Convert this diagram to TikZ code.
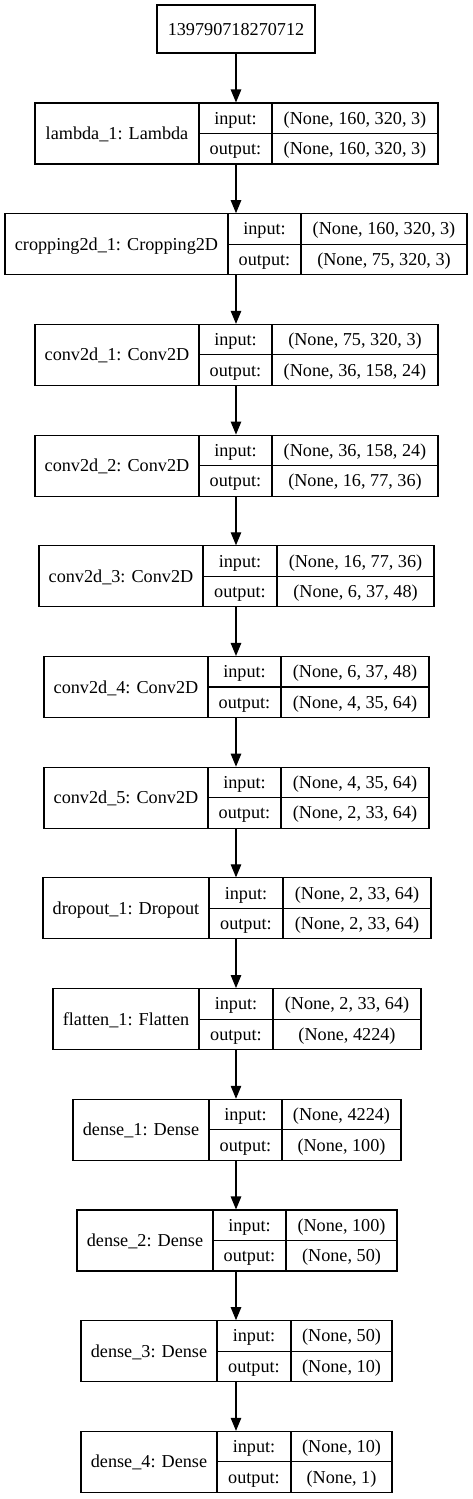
\documentclass[tikz,border=0pt]{standalone}
\usepackage{fontspec}
\setmainfont{Liberation Serif}
\usetikzlibrary{arrows.meta}
\tikzset{
  box/.style={draw=black, line width=1.1pt, inner sep=0pt, rectangle},
  divline/.style={draw=black, line width=1.1pt},
  txt/.style={inner sep=0pt, text height=12pt, text depth=0pt, font=\fontsize{18.2}{20}\selectfont},
  arr/.style={draw=black, line width=1.1pt, -{Triangle[length=13pt,width=10.5pt]}},
}
\newcommand\layer[9]{%
  \node[box, minimum width={#5-#2}, minimum height=61] (#1) at ({(#2+#5)/2},{#6+30.5}) {};
  \draw[divline] (#3,#6) -- (#3,{#6+61});
  \draw[divline] (#4,#6) -- (#4,{#6+61});
  \draw[divline] (#3,{#6+30.5}) -- (#5,{#6+30.5});
  \node[txt] (#1-name) at ({(#2+#3)/2},{#6+30.5}) {#7};
  \node[txt] (#1-inl) at ({(#3+#4)/2},{#6+15.25}) {input:};
  \node[txt] (#1-outl) at ({(#3+#4)/2},{#6+45.75}) {output:};
  \node[txt] (#1-in) at ({(#4+#5)/2},{#6+15.25}) {#8};
  \node[txt] (#1-out) at ({(#4+#5)/2},{#6+45.75}) {#9};
}
\begin{document}
\begin{tikzpicture}[x=1pt,y=-1pt]
\useasboundingbox[fill=white] (0,0) rectangle (473,1499);
\coordinate (ax) at (236,0);
\node[box, minimum width=158, minimum height=48] (top) at (236,29) {};
\node[txt] (top-t) at (236,29) {139790718270712};
\layer{L1}{35}{199}{272}{438}{103}{lambda\_1: Lambda}{(None, 160, 320, 3)}{(None, 160, 320, 3)}
\layer{L2}{5}{228}{301}{467}{213.7}{cropping2d\_1: Cropping2D}{(None, 160, 320, 3)}{(None, 75, 320, 3)}
\layer{L3}{35}{199}{272}{438}{324.4}{conv2d\_1: Conv2D}{(None, 75, 320, 3)}{(None, 36, 158, 24)}
\layer{L4}{35}{199}{272}{438}{435.1}{conv2d\_2: Conv2D}{(None, 36, 158, 24)}{(None, 16, 77, 36)}
\layer{L5}{39}{203}{277}{434}{545.8}{conv2d\_3: Conv2D}{(None, 16, 77, 36)}{(None, 6, 37, 48)}
\layer{L6}{44}{208}{281}{429}{656.5}{conv2d\_4: Conv2D}{(None, 6, 37, 48)}{(None, 4, 35, 64)}
\layer{L7}{44}{208}{281}{429}{767.2}{conv2d\_5: Conv2D}{(None, 4, 35, 64)}{(None, 2, 33, 64)}
\layer{L8}{43}{209}{283}{431}{877.9}{dropout\_1: Dropout}{(None, 2, 33, 64)}{(None, 2, 33, 64)}
\layer{L9}{53}{199}{273}{421}{988.6}{flatten\_1: Flatten}{(None, 2, 33, 64)}{(None, 4224)}
\layer{L10}{73}{209}{282}{401}{1099.3}{dense\_1: Dense}{(None, 4224)}{(None, 100)}
\layer{L11}{77}{213}{286}{397}{1210}{dense\_2: Dense}{(None, 100)}{(None, 50)}
\layer{L12}{81}{217}{291}{392}{1320.7}{dense\_3: Dense}{(None, 50)}{(None, 10)}
\layer{L13}{81}{217}{291}{392}{1431.4}{dense\_4: Dense}{(None, 10)}{(None, 1)}
\draw[arr] (top.south -| ax) -- (L1.north -| ax);
\foreach \a/\b in {L1/L2,L2/L3,L3/L4,L4/L5,L5/L6,L6/L7,L7/L8,L8/L9,L9/L10,L10/L11,L11/L12,L12/L13}
  \draw[arr] (\a.south -| ax) -- (\b.north -| ax);
\end{tikzpicture}
\end{document}
